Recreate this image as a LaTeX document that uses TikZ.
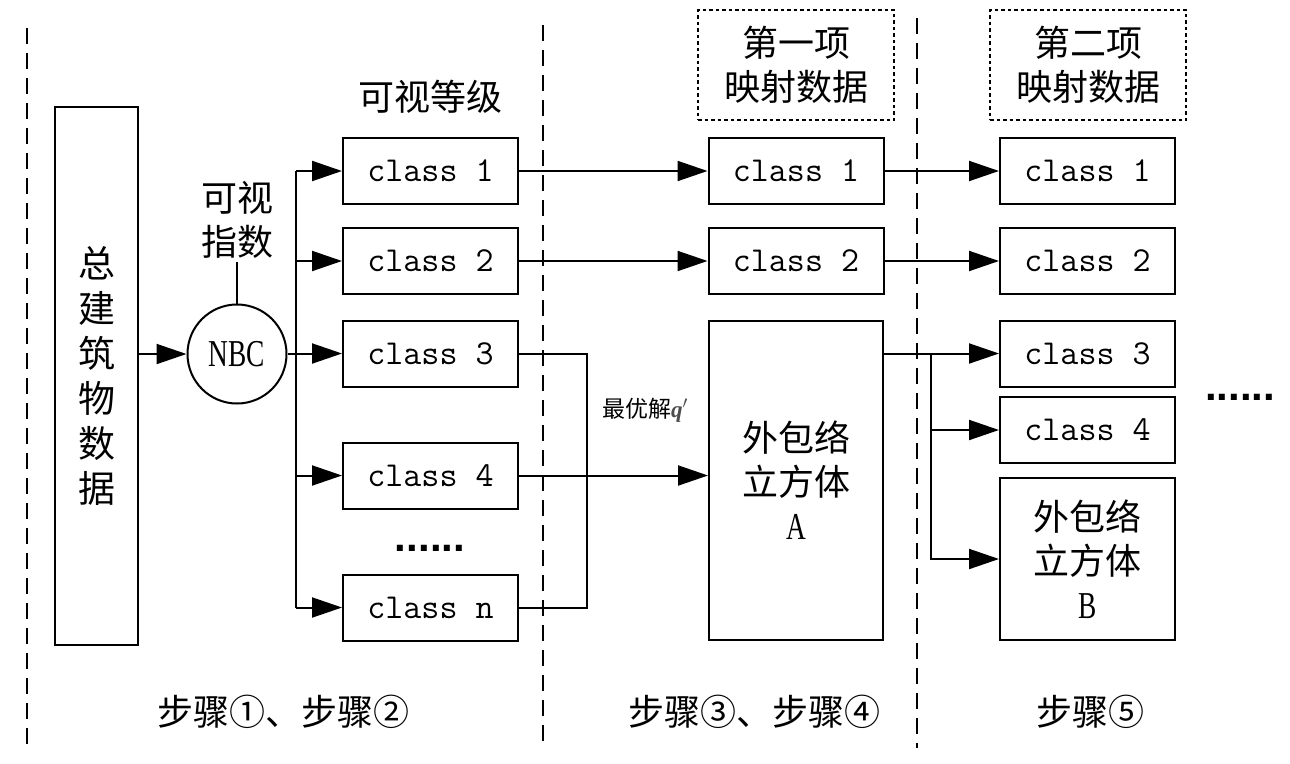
\documentclass[tikz,border=0pt]{standalone}
\usepackage{fontspec}
\usepackage{graphicx}
\newfontfamily\cjk{Noto Sans CJK SC}
\newfontfamily\serifr{Liberation Serif}
\newfontfamily\sansf{Liberation Sans}
\usetikzlibrary{arrows.meta}
\begin{document}
\begin{tikzpicture}[x=1pt,y=-1pt,
  cls/.style={draw,line width=2pt,minimum width=175pt,minimum height=66pt,inner sep=0pt,
    font=\ttfamily\fontsize{35}{42}\selectfont},
  bigbox/.style={draw,line width=2pt,inner sep=0pt,align=center,
    font=\cjk\fontsize{36}{44}\selectfont},
  cjktext/.style={inner sep=0pt,align=center,font=\cjk\fontsize{36}{44}\selectfont},
  conn/.style={line width=2pt},
  arr/.style={line width=2pt,-{Triangle[length=30pt,width=20pt]}},
  sepline/.style={line width=2pt,dash pattern=on 16pt off 9pt},
  dotbox/.style={draw,line width=2pt,dash pattern=on 3.5pt off 3pt,inner sep=0pt,
    minimum width=196pt,minimum height=110pt,align=center,font=\cjk\fontsize{36}{44}\selectfont}
]
\useasboundingbox (0,0) rectangle (1290,763);
\newcommand{\latinA}[1]{{\serifr\fontsize{38}{44}\selectfont\scalebox{0.72}[1]{#1}}}

% separators
\coordinate (s1t) at (27,28);  \coordinate (s1b) at (27,750);
\coordinate (s2t) at (543,25); \coordinate (s2b) at (543,748);
\coordinate (s3t) at (917,18); \coordinate (s3b) at (917,748);
\draw[sepline] (s1t) -- (s1b);
\draw[sepline] (s2t) -- (s2b);
\draw[sepline] (s3t) -- (s3b);

% source box
\node[bigbox,minimum width=83pt,minimum height=538pt,font=\cjk\fontsize{37}{45}\selectfont] (src) at (96.5,376) {总\\建\\筑\\物\\数\\据};

% NBC circle
\node[draw,circle,line width=2pt,minimum size=99pt,inner sep=0pt] (nbc) at (237,354) {\latinA{NBC}};
\node[cjktext] (vi) at (237,220) {可视\\指数};
\coordinate (vib) at (237,262);
\draw[conn] (vib) -- (nbc.north);
\draw[arr] (src.east |- nbc.west) -- (nbc.west);

% level title
\node[cjktext] (lvl) at (430,97) {可视等级};

% column 1
\node[cls] (c1) at (430.5,171) {class 1};
\node[cls] (c2) at (430.5,261) {class 2};
\node[cls] (c3) at (430.5,353.5) {class 3};
\node[cls] (c4) at (430.5,475.5) {class 4};
\node[cls] (cn) at (430.5,607.5) {class n};
\node[inner sep=0pt,font=\sansf\bfseries\fontsize{42}{42}\selectfont] (dots1) at (430,548) {......};

% bus
\coordinate (b1) at (296,171);
\coordinate (b5) at (296,607.5);
\draw[conn] (b1) -- (b5);
\draw[conn] (nbc.east) -- (nbc.east -| b1);
\draw[arr] (b1) -- (c1.west);
\draw[arr] (b1 |- c2.west) -- (c2.west);
\draw[arr] (b1 |- c3.west) -- (c3.west);
\draw[arr] (b1 |- c4.west) -- (c4.west);
\draw[arr] (b5) -- (cn.west);

% column 2
\node[dotbox] (h1) at (796,65) {第一项\\映射数据};
\node[cls] (d1) at (796,171) {class 1};
\node[cls] (d2) at (796,261) {class 2};
\node[bigbox,minimum width=174pt,minimum height=319pt] (A) at (796,480.5) {外包络\\立方体\\\latinA{A}};

\draw[arr] (c1.east) -- (d1.west);
\draw[arr] (c2.east) -- (d2.west);
\coordinate (m) at (587,353.5);
\draw[conn] (c3.east) -- (m) |- (cn.east);
\draw[arr] (c4.east) -- (c4.east -| A.west);
\node[inner sep=0pt,font=\cjk\fontsize{23}{26}\selectfont] (opt) at (645,410) {最优解\textcolor{black!70}{\serifr\bfseries\itshape q$'$}};

% column 3
\node[dotbox] (h2) at (1088,65) {第二项\\映射数据};
\node[cls] (e1) at (1087.5,171) {class 1};
\node[cls] (e2) at (1087.5,261) {class 2};
\node[cls] (e3) at (1087.5,353.5) {class 3};
\node[cls] (e4) at (1087.5,430) {class 4};
\node[bigbox,minimum width=175pt,minimum height=162pt] (B) at (1087.5,559) {外包络\\立方体\\\latinA{B}};
\node[inner sep=0pt,font=\sansf\bfseries\fontsize{42}{42}\selectfont] (dots2) at (1240,397) {......};

\draw[arr] (d1.east) -- (e1.west);
\draw[arr] (d2.east) -- (e2.west);
\coordinate (k) at (931,353.5);
\draw[conn] (k -| A.east) -- (k);
\draw[arr] (k) -- (e3.west);
\draw[arr] (k |- e4.west) -- (e4.west);
\draw[arr] (k) |- (B.west);

% step labels
\node[cjktext] (st1) at (283,712) {步骤①、步骤②};
\node[cjktext] (st2) at (754,712) {步骤③、步骤④};
\node[cjktext] (st3) at (1090,712) {步骤⑤};
\end{tikzpicture}
\end{document}
